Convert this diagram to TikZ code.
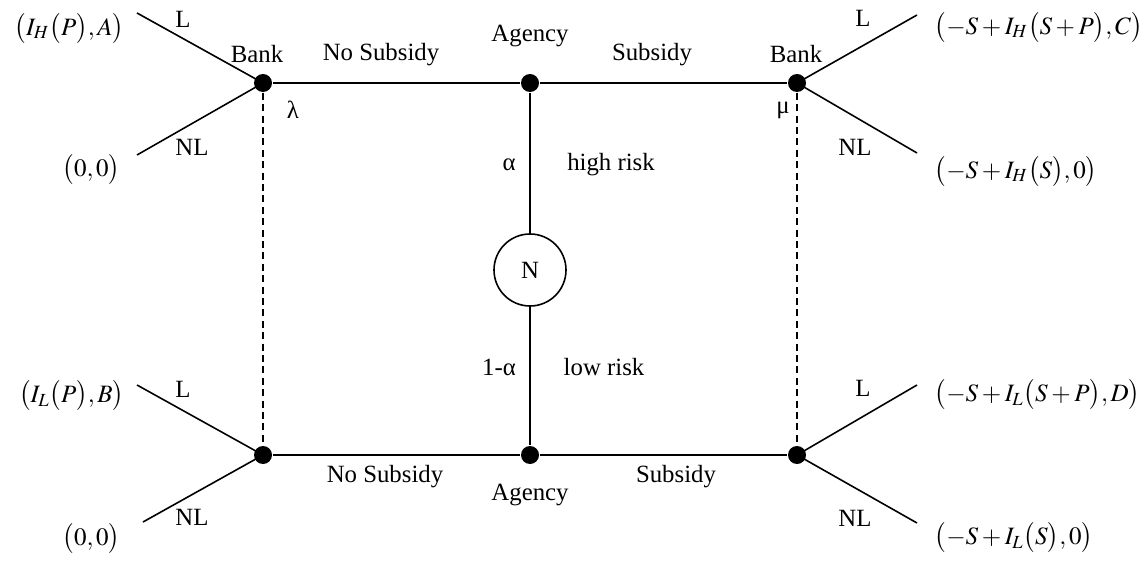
\documentclass[tikz,border=0pt]{standalone}
\usepackage{mathptmx}
\usepackage[no-math]{fontspec}
\setmainfont{Liberation Serif}
\begin{document}
\begin{tikzpicture}[x=0.5pt,y=-0.5pt,line width=0.8pt,
  dot/.style={circle,fill,inner sep=0pt,minimum size=9pt},
  lbl/.style={font=\fontsize{12.4}{14}\selectfont,inner sep=0pt},
  pay/.style={font=\fontsize{12.5}{15}\selectfont,inner sep=0pt},
  dashline/.style={line width=0.6pt,dash pattern=on 3.5pt off 2.2pt}]
\useasboundingbox (0,0) rectangle (1145,561);
% decision nodes
\node[dot] (b1) at (263,83) {};
\node[dot] (a1) at (530,83) {};
\node[dot] (b2) at (797,83) {};
\node[dot] (b3) at (263,455) {};
\node[dot] (a2) at (530,455) {};
\node[dot] (b4) at (797,455) {};
\node[circle,draw,minimum size=36pt,inner sep=0pt,lbl] (n) at (530,270) {N};
% branch ends
\coordinate (tlL) at (137,13);
\coordinate (tlN) at (137,155);
\coordinate (trL) at (917,15);
\coordinate (trN) at (917,153);
\coordinate (blL) at (137,385);
\coordinate (blN) at (143,522);
\coordinate (brL) at (917,385);
\coordinate (brN) at (917,523);
% connectors
\draw (b1) -- (a1) -- (b2);
\draw (b3) -- (a2) -- (b4);
\draw (a1) -- (n) -- (a2);
\draw[dashline] (b1) -- (b3);
\draw[dashline] (b2) -- (b4);
\draw (tlL) -- (b1.center) -- (tlN);
\draw (trL) -- (b2.center) -- (trN);
\draw (blL) -- (b3.center) -- (blN);
\draw (brL) -- (b4.center) -- (brN);
% payoffs
\node[pay,anchor=east] (p1) at (125,29) {$\bigl(I_H\bigl(P\bigr),A\bigr)$};
\node[pay,anchor=east] (p2) at (121,170) {$\bigl(0,0\bigr)$};
\node[pay,anchor=east] (p3) at (125,396) {$\bigl(I_L\bigl(P\bigr),B\bigr)$};
\node[pay,anchor=east] (p4) at (121,539) {$\bigl(0,0\bigr)$};
\node[pay,anchor=west] (p5) at (934,28) {$\bigl(-S+I_H\bigl(S+P\bigr),C\bigr)$};
\node[pay,anchor=west] (p6) at (934,172) {$\bigl(-S+I_H\bigl(S\bigr),0\bigr)$};
\node[pay,anchor=west] (p7) at (934,395) {$\bigl(-S+I_L\bigl(S+P\bigr),D\bigr)$};
\node[pay,anchor=west] (p8) at (934,538) {$\bigl(-S+I_L\bigl(S\bigr),0\bigr)$};
% labels
\node[lbl] (t1) at (257,54) {Bank};
\node[lbl] (t2) at (796,54) {Bank};
\node[lbl] (t3) at (381,55) {No Subsidy};
\node[lbl] (t4) at (530,36) {Agency};
\node[lbl] (t5) at (652,55) {Subsidy};
\node[lbl] (t6) at (293,110) {λ};
\node[lbl] (t7) at (783,110) {μ};
\node[lbl] (t8) at (183,19) {L};
\node[lbl] (t9) at (192,147) {NL};
\node[lbl] (t10) at (863,18) {L};
\node[lbl] (t11) at (855,147) {NL};
\node[lbl] (t12) at (509,165) {α};
\node[lbl] (t13) at (611,165) {high risk};
\node[lbl] (t14) at (499,367) {1-α};
\node[lbl] (t15) at (604,367) {low risk};
\node[lbl] (t16) at (183,389) {L};
\node[lbl] (t17) at (192,517) {NL};
\node[lbl] (t18) at (863,388) {L};
\node[lbl] (t19) at (855,518) {NL};
\node[lbl] (t20) at (385,477) {No Subsidy};
\node[lbl] (t21) at (530,495) {Agency};
\node[lbl] (t22) at (676,477) {Subsidy};
\end{tikzpicture}
\end{document}
